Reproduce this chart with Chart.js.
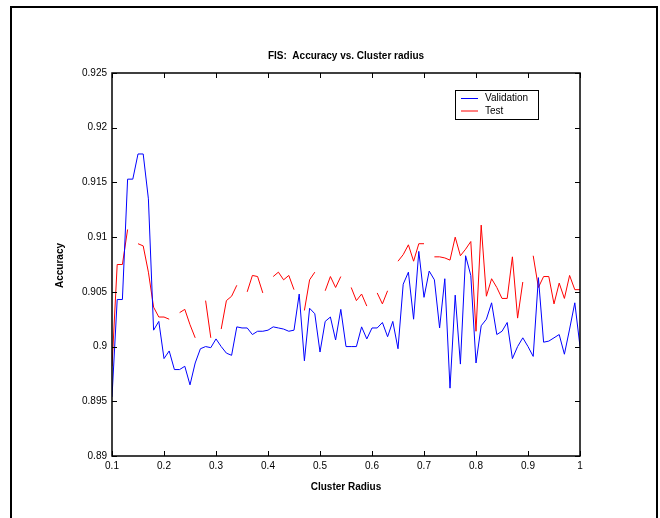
<!DOCTYPE html>
<html>
<head>
<meta charset="utf-8">
<script src="https://cdn.jsdelivr.net/npm/chart.js@4"></script>
<style>
  body { margin: 0; background: #fff; overflow: hidden; }
  #frame { position: absolute; left: 10px; top: 6px; width: 644px; height: 560px; border: 2px solid #000; }
  canvas { position: absolute; left: 0; top: 0; }
</style>
</head>
<body>
<div id="frame"></div>
<canvas id="fisChart" width="660" height="518"></canvas>
<script>
  // cluster radius grid
  const radius = [
    0.10, 0.11, 0.12, 0.13, 0.14, 0.15, 0.16, 0.17, 0.18, 0.19,
    0.20, 0.21, 0.22, 0.23, 0.24, 0.25, 0.26, 0.27, 0.28, 0.29,
    0.30, 0.31, 0.32, 0.33, 0.34, 0.35, 0.36, 0.37, 0.38, 0.39,
    0.40, 0.41, 0.42, 0.43, 0.44, 0.45, 0.46, 0.47, 0.48, 0.49,
    0.50, 0.51, 0.52, 0.53, 0.54, 0.55, 0.56, 0.57, 0.58, 0.59,
    0.60, 0.61, 0.62, 0.63, 0.64, 0.65, 0.66, 0.67, 0.68, 0.69,
    0.70, 0.71, 0.72, 0.73, 0.74, 0.75, 0.76, 0.77, 0.78, 0.79,
    0.80, 0.81, 0.82, 0.83, 0.84, 0.85, 0.86, 0.87, 0.88, 0.89,
    0.90, 0.91, 0.92, 0.93, 0.94, 0.95, 0.96, 0.97, 0.98, 0.99,
    1.00
  ];

  const validation = [
    0.8954, 0.9043, 0.9043, 0.9153, 0.9153, 0.9176, 0.9176, 0.9135, 0.9015, 0.9023,
    0.8989, 0.8996, 0.8979, 0.8979, 0.8982, 0.8965, 0.8985, 0.8998, 0.9000, 0.8999,
    0.9007, 0.9000, 0.8994, 0.8992, 0.9018, 0.9017, 0.9017, 0.9011, 0.9014, 0.9014,
    0.9015, 0.9018, 0.9017, 0.9016, 0.9014, 0.9015, 0.9048, 0.8987, 0.9035, 0.9030,
    0.8995, 0.9023, 0.9027, 0.9006, 0.9034, 0.9000, 0.9000, 0.9000, 0.9018, 0.9007,
    0.9017, 0.9017, 0.9022, 0.9009, 0.9023, 0.8998, 0.9057, 0.9068, 0.9025, 0.9087,
    0.9045, 0.9069, 0.9061, 0.9017, 0.9062, 0.8962, 0.9047, 0.8984, 0.9083, 0.9065,
    0.8985, 0.9019, 0.9025, 0.9040, 0.9011, 0.9014, 0.9022, 0.8989, 0.9000, 0.9008,
    0.9000, 0.8991, 0.9063, 0.9004, 0.9005, 0.9008, 0.9011, 0.8993, 0.9016, 0.9040,
    0.9000
  ];

  // null = break in the test curve
  const test = [
    0.8982, 0.9075, 0.9075, 0.9107, null,   0.9094, 0.9092, 0.9068, 0.9036, 0.9027,
    0.9027, 0.9025, null,   0.9031, 0.9034, 0.9020, 0.9008, null,   0.9042, 0.9008,
    null,   0.9016, 0.9042, 0.9046, 0.9056, null,   0.9050, 0.9065, 0.9064, 0.9049,
    null,   0.9064, 0.9068, 0.9061, 0.9065, 0.9052, null,   0.9033, 0.9061, 0.9068,
    null,   0.9051, 0.9064, 0.9054, 0.9064, null,   0.9054, 0.9042, 0.9048, 0.9037,
    null,   0.9049, 0.9039, 0.9051, null,   0.9078, 0.9084, 0.9093, 0.9078, 0.9094,
    0.9094, null,   0.9082, 0.9082, 0.9081, 0.9079, 0.9100, 0.9083, 0.9089, 0.9096,
    0.9014, 0.9111, 0.9046, 0.9062, 0.9054, 0.9044, 0.9044, 0.9082, 0.9026, 0.9059,
    null,   0.9083, 0.9054, 0.9064, 0.9064, 0.9039, 0.9058, 0.9044, 0.9065, 0.9052,
    0.9052
  ];

  const xTicks = [0.1, 0.2, 0.3, 0.4, 0.5, 0.6, 0.7, 0.8, 0.9, 1];
  const yTicks = [0.89, 0.895, 0.9, 0.905, 0.91, 0.915, 0.92, 0.925];

  const FONT = '"Liberation Sans", Arial, sans-serif';

  // matlab style box, inward ticks, labels and legend
  const matlabFrame = {
    id: 'matlabFrame',
    afterDraw(chart) {
      const { ctx, chartArea: a, scales } = chart;
      const x = scales.x, y = scales.y;
      ctx.save();
      ctx.strokeStyle = '#000';
      ctx.lineWidth = 1.5;
      ctx.strokeRect(a.left, a.top, a.right - a.left, a.bottom - a.top);

      ctx.lineWidth = 1;
      ctx.beginPath();
      xTicks.forEach(v => {
        const px = Math.round(x.getPixelForValue(v)) + 0.5;
        ctx.moveTo(px, a.bottom); ctx.lineTo(px, a.bottom - 5);
        ctx.moveTo(px, a.top); ctx.lineTo(px, a.top + 5);
      });
      yTicks.forEach(v => {
        const py = Math.round(y.getPixelForValue(v)) + 0.5;
        ctx.moveTo(a.left, py); ctx.lineTo(a.left + 5, py);
        ctx.moveTo(a.right, py); ctx.lineTo(a.right - 5, py);
      });
      ctx.stroke();

      const cx = (a.left + a.right) / 2;
      ctx.fillStyle = '#000';
      ctx.font = 'bold 10px ' + FONT;
      ctx.textAlign = 'center';
      ctx.textBaseline = 'middle';
      ctx.fillText('FIS:  Accuracy vs. Cluster radius', cx, a.top - 17);
      ctx.fillText('Cluster Radius', cx, a.bottom + 31);
      ctx.save();
      ctx.translate(60, (a.top + a.bottom) / 2 + 1);
      ctx.rotate(-Math.PI / 2);
      ctx.fillText('Accuracy', 0, 0);
      ctx.restore();

      // legend
      const lx = a.left + 343, ly = a.top + 17;
      ctx.fillStyle = '#fff';
      ctx.fillRect(lx, ly, 83, 29);
      ctx.strokeRect(lx + 0.5, ly + 0.5, 83, 29);
      ctx.font = '10px ' + FONT;
      ctx.textAlign = 'left';
      chart.data.datasets.forEach((ds, i) => {
        const ry = ly + 8.5 + i * 12.5;
        ctx.strokeStyle = ds.borderColor;
        ctx.beginPath();
        ctx.moveTo(lx + 6, ry); ctx.lineTo(lx + 23, ry);
        ctx.stroke();
        ctx.fillStyle = '#000';
        ctx.fillText(ds.label, lx + 30, ry);
      });
      ctx.restore();
    }
  };

  new Chart(document.getElementById('fisChart'), {
    type: 'line',
    data: {
      labels: radius,
      datasets: [
        { label: 'Validation', data: validation, borderColor: '#0000ff', borderWidth: 1, pointRadius: 0, tension: 0 },
        { label: 'Test', data: test, borderColor: '#ff0000', borderWidth: 1, pointRadius: 0, tension: 0, spanGaps: false }
      ]
    },
    options: {
      responsive: false,
      animation: false,
      devicePixelRatio: 1,
      layout: { padding: { top: 73, right: 80, left: 0, bottom: 0 } },
      plugins: { legend: { display: false }, title: { display: false }, tooltip: { enabled: false } },
      scales: {
        x: {
          type: 'linear',
          min: 0.1, max: 1,
          afterFit: s => { s.height = 62; },
          afterBuildTicks: s => { s.ticks = xTicks.map(v => ({ value: v })); },
          grid: { display: false, drawTicks: false },
          border: { display: false },
          ticks: { padding: 4, color: '#000', font: { family: FONT, size: 10 }, maxRotation: 0, callback: v => String(v) }
        },
        y: {
          min: 0.89, max: 0.925,
          afterFit: s => { s.width = 112; },
          afterBuildTicks: s => { s.ticks = yTicks.map(v => ({ value: v })); },
          grid: { display: false, drawTicks: false },
          border: { display: false },
          ticks: { padding: 5, color: '#000', font: { family: FONT, size: 10 }, callback: v => String(v) }
        }
      }
    },
    plugins: [matlabFrame]
  });
</script>
</body>
</html>
